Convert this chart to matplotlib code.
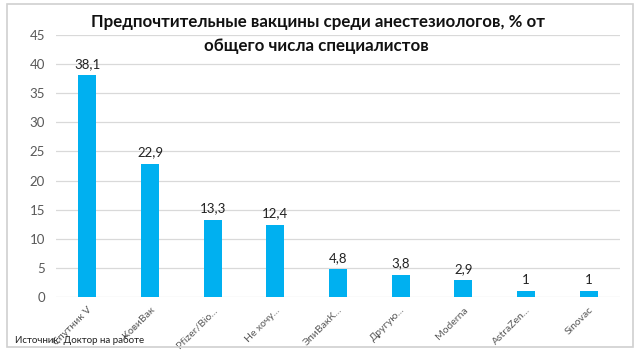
import matplotlib.pyplot as plt
from matplotlib.patches import Rectangle

categories = ["Спутник V", "КовиВак", "Pfizer/Bio...", "Не хочу...", "ЭпиВакК...",
              "Другую...", "Moderna", "AstraZen...", "Sinovac"]
values = [38.1, 22.9, 13.3, 12.4, 4.8, 3.8, 2.9, 1, 1]
value_labels = ["38,1", "22,9", "13,3", "12,4", "4,8", "3,8", "2,9", "1", "1"]
yticks = [0, 5, 10, 15, 20, 25, 30, 35, 40, 45]

plt.rcParams['font.family'] = ['Lato', 'DejaVu Sans']

fig = plt.figure(figsize=(6.37, 3.51), dpi=100)
ax = fig.add_axes([56/637, 1 - 297/351, 564/637, 262/351])

x = range(len(categories))
ax.bar(x, values, width=0.29, color="#00B0F0", zorder=3)
for i, (v, lab) in enumerate(zip(values, value_labels)):
    ax.text(i, v + 0.9, lab, ha="center", va="bottom", fontsize=9.5, color="#222222")

ax.set_xlim(-0.5, len(categories) - 0.5)
ax.set_ylim(0, 45)
ax.set_yticks(yticks)
ax.set_yticklabels([str(t) for t in yticks], color="#595959", fontsize=9.5)
ax.set_xticks(list(x))
ax.set_xticklabels(categories, rotation=45, ha="right", rotation_mode="anchor",
                   color="#595959", fontsize=7.5)
ax.tick_params(axis="both", length=0, pad=8)
ax.tick_params(axis="x", pad=6)
ax.grid(axis="y", color="#D9D9D9", linewidth=0.9, zorder=0)
for s in ax.spines.values():
    s.set_visible(False)

fig.text(318/637, 1 - 22/351, "Предпочтительные вакцины среди анестезиологов, % от",
         ha="center", va="center", fontsize=12.2, fontweight="bold", color="#111111")
fig.text(316/637, 1 - 46/351, "общего числа специалистов",
         ha="center", va="center", fontsize=12.2, fontweight="bold", color="#111111")
fig.text(15/637, 1 - 340/351, "Источник: Доктор на работе", ha="left", va="center",
         fontsize=7, color="#222222")

fig.patches.append(Rectangle((7/637, 4/351), 626/637, 343/351, transform=fig.transFigure,
                             fill=False, edgecolor="#D0D0D0", linewidth=1.2))

fig.savefig("out.png", dpi=100)
